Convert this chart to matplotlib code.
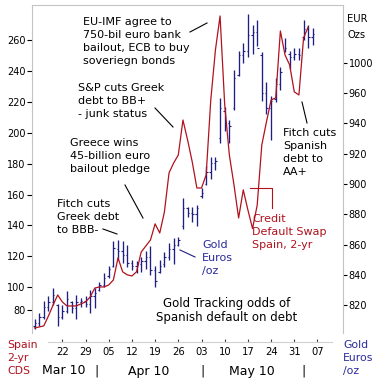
"""
Gold in euros vs. Spain 2-yr CDS, Mar-Jun 2010.

Daily OHLC bars for gold (right axis) with the Spanish 2-yr CDS line
(left axis) and the news annotations from the original chart.
"""
import matplotlib
matplotlib.use("Agg")
import matplotlib.pyplot as plt
from matplotlib.lines import Line2D
from matplotlib.transforms import blended_transform_factory
import numpy as np

# ── DATA ──────────────────────────────────────────────────────────
# one entry per trading day, 12 Mar 2010 .. 04 Jun 2010
GOLD_HIGH = [811, 815, 823, 826, 831, 821, 820, 829, 823, 827,
             825, 826, 830, 831, 835, 841, 846, 862, 863, 862,
             860, 850, 849, 852, 856, 859, 846, 850, 855, 861,
             864, 865, 891, 885, 885, 886, 897, 912, 918, 918,
             957, 951, 942, 975, 988, 993, 1012, 1005, 1008, 987,
             967, 958, 970, 977, 996, 988, 990, 990, 1008, 1005,
             1003]
GOLD_LOW = [804, 806, 811, 816, 820, 806, 811, 815, 815, 811,
            819, 819, 815, 818, 829, 832, 838, 845, 850, 848,
            845, 843, 841, 842, 844, 840, 832, 841, 845, 850,
            847, 859, 870, 878, 875, 872, 891, 899, 903, 909,
            927, 935, 927, 949, 971, 980, 984, 986, 991, 955,
            946, 929, 954, 962, 987, 976, 982, 982, 995, 990,
            992]
GOLD_OPEN = [806, 808, 812, 819, 822, 820, 812, 816, 822, 818,
             822, 823, 821, 826, 830, 833, 839, 846, 857, 856,
             853, 848, 846, 847, 849, 852, 843, 842, 847, 852,
             857, 860, 872, 884, 881, 880, 892, 900, 908, 914,
             930, 948, 940, 950, 972, 985, 988, 998, 1000, 985,
             960, 950, 956, 966, 988, 986, 984, 986, 997, 1002,
             997]
GOLD_CLOSE = [808, 812, 819, 822, 827, 812, 816, 824, 818, 822,
              823, 821, 826, 828, 833, 838, 844, 858, 856, 853,
              848, 846, 847, 849, 852, 843, 836, 846, 852, 857,
              860, 863, 884, 881, 880, 884, 894, 908, 914, 915,
              950, 940, 938, 970, 985, 988, 998, 1000, 990, 960,
              950, 955, 966, 974, 990, 984, 986, 985, 1002, 997,
              999]
CDS_SPAIN_2Y = [73.7, 74.3, 75.0, 81.4, 88.5, 95.0, 90.5, 87.9, 87.9, 87.9,
                89.2, 90.5, 93.7, 99.5, 100.2, 100.2, 101.5, 104.7, 119.0, 110.0,
                108.0, 107.3, 110.0, 122.8, 126.7, 130.6, 141.0, 135.1, 148.7, 174.0,
                180.4, 185.6, 208.2, 195.3, 181.1, 164.2, 164.2, 172.7, 221.2, 253.5,
                275.5, 218.0, 185.6, 166.2, 144.8, 163.0, 150.0, 138.0, 153.0, 192.1,
                207.0, 221.2, 222.5, 265.8, 250.3, 243.8, 226.4, 224.4, 261.3, 268.4]

WEEK_LABELS = ["22", "29", "05", "12", "19", "26", "03", "10", "17", "24", "31", "07"]
WEEK_IDX = [6, 11, 16, 21, 26, 31, 36, 41, 46, 51, 56, 61]   # Mondays
MONTH_LABELS = ["Mar 10", "Apr 10", "May 10"]

CDS_TICKS = [85, 100, 120, 140, 160, 180, 200, 220, 240, 260]
CDS_TICK_LABELS = ["80", "100", "120", "140", "160", "180", "200", "220", "240", "260"]
GOLD_TICKS = [820, 840, 860, 880, 900, 920, 940, 960, 980]
GOLD_TICK_LABELS = ["820", "840", "860", "880", "900", "920", "940", "960", "1000"]
# ─────────────────────────────────────────────────────────────────

W, H = 379, 382
RED = "#b0121e"
NAVY = "#1e1e84"
BLUE_TXT = "#2a2a9c"
GREY = "#c4c4c4"


def fx(x):
    return x / W


def fy(y):
    return 1 - y / H


def text_lines(fig, lines, x, y0, step, **kw):
    for k, line in enumerate(lines):
        fig.text(fx(x), fy(y0 + k * step), line, va="center", **kw)


def pointer(fig, pts, color="black"):
    xs = [fx(p[0]) for p in pts]
    ys = [fy(p[1]) for p in pts]
    fig.add_artist(Line2D(xs, ys, color=color, lw=0.8))


def main():
    fig = plt.figure(figsize=(W / 100, H / 100), dpi=100)
    ax = fig.add_axes([fx(32), 49 / H, 311 / W, 328 / H])
    ax2 = ax.twinx()

    idx = np.arange(len(GOLD_HIGH))

    # gold OHLC bars
    ax2.vlines(idx, GOLD_LOW, GOLD_HIGH, color=NAVY, lw=0.95)
    ax2.hlines(GOLD_OPEN, idx - 0.3, idx, color=NAVY, lw=0.8)
    ax2.hlines(GOLD_CLOSE, idx, idx + 0.3, color=NAVY, lw=0.8)

    # CDS line
    ax.plot(idx[:len(CDS_SPAIN_2Y)], CDS_SPAIN_2Y, color=RED, lw=0.9)
    ax.set_zorder(ax2.get_zorder() + 1)
    ax.patch.set_visible(False)

    ax.set_xlim(-0.54, 66.5)
    ax.set_ylim(70.4, 282.6)
    ax2.set_ylim(801.6, 1018.1)

    ax.set_yticks(CDS_TICKS)
    ax.set_yticklabels(CDS_TICK_LABELS)
    ax2.set_yticks(GOLD_TICKS)
    ax2.set_yticklabels(GOLD_TICK_LABELS)

    ax.set_xticks(WEEK_IDX)
    ax.set_xticklabels(WEEK_LABELS)

    ax.tick_params(axis="y", direction="out", length=3.5, width=0.8, pad=1,
                   labelsize=7)
    ax2.tick_params(axis="y", direction="out", length=3, width=0.8, pad=1,
                    labelsize=7)
    ax.tick_params(axis="x", direction="in", length=2, width=0.8, pad=4,
                   labelsize=7.2, color="#444444")

    for side in ("top", "left"):
        ax.spines[side].set_color(GREY)
    ax.spines["right"].set_visible(False)
    ax.spines["bottom"].set_position(("outward", 6.3))
    ax.spines["bottom"].set_bounds(2.9, 64.1)
    ax.spines["bottom"].set_color("#d0d0d0")
    for side in ("top", "left", "bottom"):
        ax2.spines[side].set_visible(False)
    ax2.spines["right"].set_color(GREY)

    # month row under the week labels
    trans = blended_transform_factory(ax.transData, fig.transFigure)
    for lab, x in zip(MONTH_LABELS, [6.36, 24.7, 46.9]):
        ax.text(x, fy(371), lab, transform=trans, ha="center", va="center",
                fontsize=9)
    for x in [13.47, 36.3, 57.9]:
        ax.text(x, fy(371), "|", transform=trans, ha="center", va="center",
                fontsize=9)

    # annotations
    text_lines(fig, ["EU-IMF agree to", "750-bil euro bank",
                     "bailout, ECB to buy", "soveriegn bonds"],
               83, 22, 13, fontsize=8)
    pointer(fig, [(190, 32), (207, 23)])
    text_lines(fig, ["S&P cuts Greek", "debt to BB+", "- junk status"],
               78, 88, 13, fontsize=8)
    pointer(fig, [(155, 108), (173, 127)])
    text_lines(fig, ["Greece wins", "45-billion euro", "bailout pledge"],
               70, 143, 13, fontsize=8)
    pointer(fig, [(125, 185), (143, 218)])
    text_lines(fig, ["Fitch cuts", "Greek debt", "to BBB-"],
               57, 204, 13, fontsize=8)
    pointer(fig, [(103, 229), (117, 234)])
    text_lines(fig, ["Gold", "Euros", "/oz"], 202, 245, 13,
               fontsize=8, color=BLUE_TXT)
    pointer(fig, [(180, 250), (195, 257)], color=NAVY)
    text_lines(fig, ["Credit", "Default Swap", "Spain, 2-yr"], 252, 219, 13,
               fontsize=8, color=RED)
    pointer(fig, [(250, 188), (272, 188), (272, 208)], color=RED)
    text_lines(fig, ["Fitch cuts", "Spanish", "debt to", "AA+"],
               283, 133, 13, fontsize=8)
    pointer(fig, [(302, 102), (307, 123)])

    for k, line in enumerate(["Gold Tracking odds of", "Spanish default on debt"]):
        fig.text(fx(227), fy(303 + 14 * k), line, ha="center", va="center",
                 fontsize=8.5)

    text_lines(fig, ["EUR", "Ozs"], 347, 19, 16, fontsize=7.2)
    text_lines(fig, ["Spain", "2-yr", "CDS"], 7, 345, 13, fontsize=7.8, color=RED)
    text_lines(fig, ["Gold", "Euros", "/oz"], 343, 345, 13, fontsize=7.8,
               color=BLUE_TXT)

    fig.savefig("out.png", dpi=100)
    plt.close(fig)


if __name__ == "__main__":
    main()
